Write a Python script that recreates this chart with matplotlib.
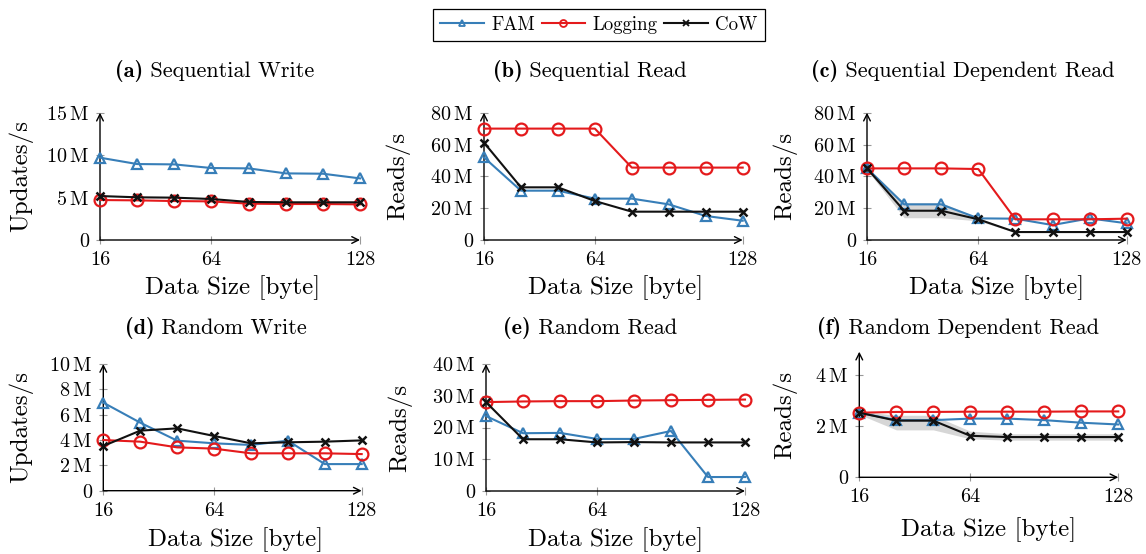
import matplotlib
matplotlib.use('Agg')
import matplotlib.pyplot as plt
from matplotlib.lines import Line2D

plt.rcParams['font.family'] = ['cmr10', 'DejaVu Serif']
plt.rcParams['mathtext.fontset'] = 'cm'
plt.rcParams['axes.unicode_minus'] = False
plt.rcParams['axes.formatter.use_mathtext'] = True

# ---------------- data (millions of ops/s) ----------------
sizes = [16, 32, 48, 64, 80, 96, 112, 128]
xtick_vals = [16, 64, 128]
series_names = ['FAM', 'Logging', 'CoW']

seq_write_fam = [9.70, 8.95, 8.91, 8.48, 8.44, 7.85, 7.81, 7.26]
seq_write_log = [4.71, 4.67, 4.59, 4.55, 4.28, 4.24, 4.24, 4.20]
seq_write_cow = [5.18, 5.03, 4.99, 4.83, 4.48, 4.44, 4.44, 4.44]

seq_read_fam = [51.9, 31.0, 31.0, 26.0, 26.0, 22.4, 15.1, 12.1]
seq_read_log = [70.0, 70.0, 70.0, 70.0, 45.5, 45.5, 45.5, 45.5]
seq_read_cow = [61.2, 33.1, 33.1, 24.5, 17.8, 17.8, 17.8, 17.8]

seq_dep_fam = [45.0, 22.4, 22.4, 13.6, 13.4, 9.4, 13.6, 10.5]
seq_dep_log = [45.0, 45.0, 45.0, 44.6, 13.0, 13.0, 13.0, 13.4]
seq_dep_cow = [45.0, 18.4, 18.4, 13.0, 5.0, 5.0, 5.0, 5.0]
seq_dep_cow_lo = [44.0, 14.0, 14.0, 12.0, 4.7, 4.7, 4.7, 4.7]
seq_dep_cow_hi = [46.0, 23.5, 23.5, 14.0, 5.3, 5.3, 5.3, 5.3]

rnd_write_fam = [6.95, 5.37, 3.95, 3.74, 3.61, 3.95, 2.10, 2.10]
rnd_write_log = [4.00, 3.87, 3.42, 3.32, 2.95, 2.95, 2.95, 2.89]
rnd_write_cow = [3.53, 4.74, 4.92, 4.32, 3.74, 3.82, 3.87, 3.97]

rnd_read_fam = [23.6, 18.2, 18.3, 16.4, 16.4, 18.9, 4.4, 4.4]
rnd_read_log = [28.0, 28.2, 28.3, 28.3, 28.5, 28.6, 28.7, 28.8]
rnd_read_cow = [28.0, 16.3, 16.3, 15.3, 15.4, 15.3, 15.3, 15.3]

rnd_dep_fam = [2.52, 2.23, 2.23, 2.29, 2.29, 2.23, 2.13, 2.06]
rnd_dep_log = [2.52, 2.55, 2.55, 2.56, 2.56, 2.56, 2.57, 2.57]
rnd_dep_cow = [2.52, 2.21, 2.21, 1.62, 1.57, 1.57, 1.57, 1.57]
rnd_dep_cow_lo = [2.45, 1.85, 1.85, 1.50, 1.45, 1.45, 1.45, 1.45]
rnd_dep_cow_hi = [2.58, 2.42, 2.42, 1.80, 1.70, 1.70, 1.70, 1.70]

panel_titles = ['Sequential Write', 'Sequential Read', 'Sequential Dependent Read',
                'Random Write', 'Random Read', 'Random Dependent Read']
panel_letters = ['(a)', '(b)', '(c)', '(d)', '(e)', '(f)']
ylabels = ['Updates/s', 'Reads/s', 'Reads/s', 'Updates/s', 'Reads/s', 'Reads/s']
yticks_list = [[0, 5, 10, 15], [0, 20, 40, 60, 80], [0, 20, 40, 60, 80],
               [0, 2, 4, 6, 8, 10], [0, 10, 20, 30, 40], [0, 2, 4]]
ylims = [15, 80, 80, 10, 40, 4.9]

panel_data = [
    (seq_write_fam, seq_write_log, seq_write_cow, None, None),
    (seq_read_fam, seq_read_log, seq_read_cow, None, None),
    (seq_dep_fam, seq_dep_log, seq_dep_cow, seq_dep_cow_lo, seq_dep_cow_hi),
    (rnd_write_fam, rnd_write_log, rnd_write_cow, None, None),
    (rnd_read_fam, rnd_read_log, rnd_read_cow, None, None),
    (rnd_dep_fam, rnd_dep_log, rnd_dep_cow, rnd_dep_cow_lo, rnd_dep_cow_hi),
]

# ---------------- style / layout ----------------
W, H = 1146, 554
colors = {'FAM': '#377eb8', 'Logging': '#e41a1c', 'CoW': '#111111'}
markers = {'FAM': '^', 'Logging': 'o', 'CoW': 'x'}
msizes = {'FAM': 7, 'Logging': 8.5, 'CoW': 6}

# axes boxes in pixels: left, right, bottom(y of 0), top(y of ylim)
boxes = [(100, 360, 240, 112.7), (484, 742.7, 240, 112.7), (867, 1126.7, 240, 112.7),
         (103.3, 361.7, 490.7, 364), (486, 745, 491, 364), (859.3, 1118.3, 477.3, 351.7)]
title_pos = [(215, 71), (590, 71), (963, 71), (216, 328), (590, 328), (958, 328)]
ylabel_x = [21, 398, 785, 21, 400, 785]
xlabel_y = [288, 288, 288, 540, 540, 530]
xlabel_x = [233, 616, 997, 236, 616, 989]

fig = plt.figure(figsize=(W / 100, H / 100), dpi=100)
renderer = fig.canvas.get_renderer()

for i in range(6):
    l, r, b, t = boxes[i]
    ax = fig.add_axes([l / W, 1 - b / H, (r - l) / W, (b - t) / H])
    fam, log, cow, lo, hi = panel_data[i]
    if lo is not None:
        ax.fill_between(sizes, lo, hi, color='#bbbbbb', alpha=0.6, lw=0, zorder=1)
    for name, vals in zip(series_names, [fam, log, cow]):
        mew = 1.6 if name != 'CoW' else 1.8
        ax.plot(sizes, vals, color=colors[name], marker=markers[name],
                markersize=msizes[name], markerfacecolor='none',
                markeredgewidth=mew, lw=1.5, clip_on=False, zorder=3)
    ax.set_xlim(16, 128)
    ax.set_ylim(0, ylims[i])
    ax.set_xticks(xtick_vals)
    ax.set_xticklabels([str(v) for v in xtick_vals])
    ax.set_yticks(yticks_list[i])
    ax.set_yticklabels(['0' if v == 0 else f'{v}' + r'$\,$' + 'M' for v in yticks_list[i]])
    for s in ax.spines.values():
        s.set_visible(False)
    ax.tick_params(direction='inout', length=6, color='#999999', width=0.8,
                   labelsize=14.5, pad=5)
    ax.tick_params(axis='x', pad=5)
    ax.annotate('', xy=(1, 0), xytext=(0, 0), xycoords='axes fraction',
                arrowprops=dict(arrowstyle='->', lw=1.0, color='black',
                                shrinkA=0, shrinkB=0, mutation_scale=12), zorder=2)
    ax.annotate('', xy=(0, 1), xytext=(0, 0), xycoords='axes fraction',
                arrowprops=dict(arrowstyle='->', lw=1.0, color='black',
                                shrinkA=0, shrinkB=0, mutation_scale=12), zorder=2)
    ax.patch.set_visible(False)
    ax.set_ylabel(ylabels[i], fontsize=18)
    ax.yaxis.set_label_coords((ylabel_x[i] - l) / (r - l), 0.5)
    ax.set_xlabel('Data Size [byte]', fontsize=18)
    ax.xaxis.set_label_coords((xlabel_x[i] - l) / (r - l), -(xlabel_y[i] - b) / (b - t))
    ax.xaxis.label.set_va('center')
    ax.yaxis.label.set_va('center')

    # title: bold letter + regular text, centred as a whole
    tx, ty = title_pos[i]
    t1 = fig.text(0, 0, panel_letters[i], family='cmb10', fontsize=16, va='center', ha='left')
    t2 = fig.text(0, 0, ' ' + panel_titles[i], family='cmr10', fontsize=16, va='center', ha='left')
    w1 = t1.get_window_extent(renderer).width
    w2 = t2.get_window_extent(renderer).width
    x0 = tx - (w1 + w2) / 2
    t1.set_position((x0 / W, 1 - ty / H))
    t2.set_position(((x0 + w1) / W, 1 - ty / H))

leg_handles = [Line2D([0], [0], color=colors[n], marker=markers[n], markersize=5,
                      markerfacecolor='none', markeredgewidth=1.3, lw=1.5)
               for n in series_names]
leg = fig.legend(leg_handles, series_names, loc='center', bbox_to_anchor=(599 / W, 1 - 25 / H),
                 ncol=3, frameon=True, fancybox=False, edgecolor='black', framealpha=1,
                 fontsize=13.6, handlelength=2.3, handletextpad=0.4, columnspacing=0.35,
                 borderpad=0.38)
leg.get_frame().set_linewidth(0.9)

fig.savefig('out.png', dpi=100)
